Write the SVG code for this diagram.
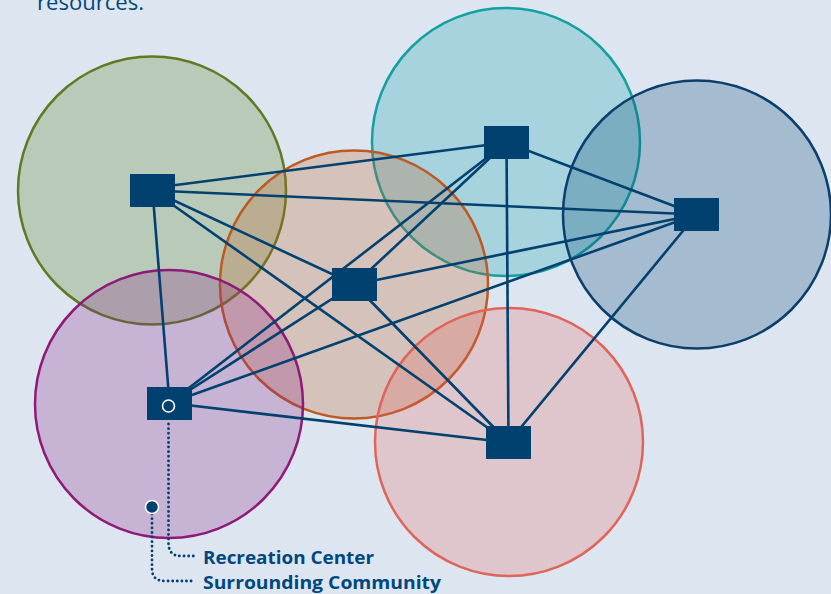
<svg xmlns="http://www.w3.org/2000/svg" width="831" height="594" viewBox="0 0 831 594">
<style>
.c{stroke-width:2.5}
.e{stroke:#00416f;stroke-width:2.6;fill:none}
.n{fill:#00416f}
.dot{stroke:#00416f;stroke-width:2.8;fill:none;stroke-dasharray:0.1 4.5;stroke-linecap:round}
.t{font-family:"Open Sans","Noto Sans","Liberation Sans",sans-serif;fill:#00467f}
</style>
<rect width="831" height="594" fill="#dde6f0"/>
<text class="t" x="37" y="10" font-size="21" textLength="107" lengthAdjust="spacingAndGlyphs">resources.</text>
<g id="circles">
<circle class="c" cx="152" cy="190.5" r="134" fill="#6b8a3a" fill-opacity="0.3" stroke="#5e7a22"/>
<circle class="c" cx="506" cy="142" r="134" fill="#1aa0b0" fill-opacity="0.28" stroke="#12a0a0"/>
<circle class="c" cx="697" cy="214.5" r="134" fill="#003f6e" fill-opacity="0.25" stroke="#0a3e6c"/>
<circle class="c" cx="354" cy="284.5" r="134" fill="#c0602a" fill-opacity="0.27" stroke="#bd5a22"/>
<circle class="c" cx="169" cy="404" r="134" fill="#8b2a8a" fill-opacity="0.27" stroke="#8e1a78"/>
<circle class="c" cx="509" cy="442" r="134" fill="#e0605a" fill-opacity="0.24" stroke="#e0645a"/>
</g>
<g id="connectors">
<line class="e" x1="152.5" y1="188" x2="506.5" y2="142.5"/>
<line class="e" x1="152.5" y1="190.5" x2="696.5" y2="214.5"/>
<line class="e" x1="152.5" y1="190.5" x2="354.5" y2="284.5"/>
<line class="e" x1="152.5" y1="190.5" x2="169.5" y2="403"/>
<line class="e" x1="152.5" y1="190.5" x2="508.5" y2="442.5"/>
<line class="e" x1="506.5" y1="142.5" x2="696.5" y2="214.5"/>
<line class="e" x1="506.5" y1="142.5" x2="354.5" y2="284.5"/>
<line class="e" x1="506.5" y1="142.5" x2="169.5" y2="403"/>
<line class="e" x1="506.5" y1="142.5" x2="508.5" y2="442.5"/>
<line class="e" x1="696.5" y1="214.5" x2="354.5" y2="284.5"/>
<line class="e" x1="696.5" y1="214.5" x2="169.5" y2="403"/>
<line class="e" x1="696.5" y1="214.5" x2="508.5" y2="442.5"/>
<line class="e" x1="354.5" y1="284.5" x2="169.5" y2="403"/>
<line class="e" x1="354.5" y1="284.5" x2="508.5" y2="442.5"/>
<line class="e" x1="169.5" y1="403" x2="508.5" y2="442.5"/>
<path class="dot" d="M168.5,424 V543 Q168.5,556 181,556 H195"/>
<path class="dot" d="M152,514 V569 Q152,581 165,581 H195"/>
</g>
<g id="node-green"><rect class="n" x="130" y="174" width="45" height="33"/></g>
<g id="node-teal"><rect class="n" x="484" y="126" width="45" height="33"/></g>
<g id="node-blue"><rect class="n" x="674" y="198" width="45" height="33"/></g>
<g id="node-orange"><rect class="n" x="332" y="268" width="45" height="33"/></g>
<g id="node-recreation"><rect class="n" x="147" y="387" width="45" height="33"/><circle cx="168.5" cy="406" r="6" fill="none" stroke="#fff" stroke-width="1.6"/></g>
<g id="node-salmon"><rect class="n" x="486" y="426" width="45" height="33"/></g>
<g id="node-community"><circle cx="152" cy="507" r="6.5" fill="#00416f" stroke="#fff" stroke-width="1.5"/></g>
<g id="labels">
<text class="t" x="203" y="564" font-size="18" font-weight="bold" textLength="171" lengthAdjust="spacingAndGlyphs">Recreation Center</text>
<text class="t" x="203" y="589" font-size="18" font-weight="bold" textLength="238" lengthAdjust="spacingAndGlyphs">Surrounding Community</text>
</g>
</svg>
